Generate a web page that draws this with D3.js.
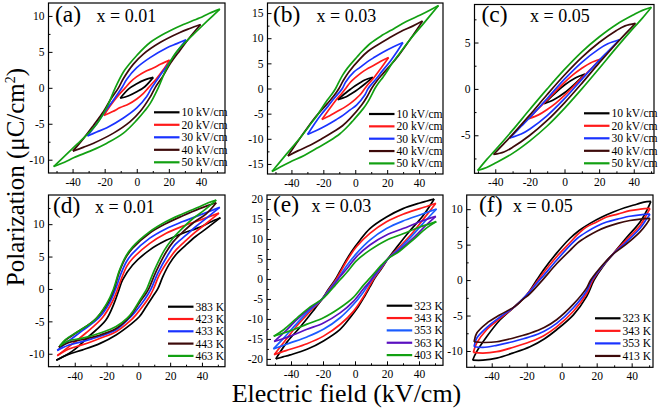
<!DOCTYPE html>
<html><head><meta charset="utf-8">
<script src="https://cdn.jsdelivr.net/npm/d3@7"></script>
<style>
body{margin:0;background:#fff}
svg{display:block}
text{font-family:"Liberation Serif","Times New Roman",serif;fill:#000}
</style>
</head><body>
<svg id="chart" width="659" height="409"></svg>
<script>
// ---------------- DATA ----------------
const fieldTicks = [-40, -20, 0, 20, 40];
const fieldMinorTicks = [-50, -30, -10, 10, 30, 50];

const yTicksA = [-10, -5, 0, 5, 10];
const yTicksB = [-15, -10, -5, 0, 5, 10, 15];
const yTicksC = [-5, 0, 5];
const yTicksD = [-10, -5, 0, 5, 10];
const yTicksE = [-20, -15, -10, -5, 0, 5, 10, 15, 20];
const yTicksF = [-10, -5, 0, 5, 10];

const labelsField = ["10 kV/cm", "20 kV/cm", "30 kV/cm", "40 kV/cm", "50 kV/cm"];
const labelsD = ["383 K", "423 K", "433 K", "443 K", "463 K"];
const labelsE = ["323 K", "343 K", "353 K", "363 K", "403 K"];
const labelsF = ["323 K", "343 K", "353 K", "413 K"];

const compositions = ["x = 0.01", "x = 0.03", "x = 0.05", "x = 0.01", "x = 0.03", "x = 0.05"];
const panelTags = ["(a)", "(b)", "(c)", "(d)", "(e)", "(f)"];

// each loop: up = descending branch (+Emax -> -Emax), lo = ascending branch (-Emax -> +Emax); [E (kV/cm), P (uC/cm2)]
const loopsA = [
  {up: [[10.3,1.45],[5,1.1],[0,0.55],[-5,-0.15],[-10.3,-1.45]],
   lo: [[-10.3,-1.45],[-5,-1.1],[0,-0.55],[5,0.15],[10.3,1.45]]},
  {up: [[20.5,3.85],[15,3.3],[10.3,2.75],[5,2.25],[0,1.55],[-4,0.8],[-7.2,0],[-12.4,-1.3],[-16.5,-2.5],[-20.5,-3.85]],
   lo: [[-20.5,-3.85],[-15,-3.3],[-10.3,-2.75],[-5,-2.25],[0,-1.55],[4,-0.8],[7.2,0],[12.4,1.3],[16.5,2.5],[20.5,3.85]]},
  {up: [[30.7,6.7],[25,6.15],[18.6,5.55],[8.3,4.2],[0,2.8],[-6.2,1.2],[-9.3,0],[-14.5,-1.7],[-20.7,-3.6],[-25,-5.0],[-30.7,-6.7]],
   lo: [[-30.7,-6.7],[-25,-6.15],[-18.6,-5.55],[-8.3,-4.2],[0,-2.8],[6.2,-1.2],[9.3,0],[14.5,1.7],[20.7,3.6],[25,5.0],[30.7,6.7]]},
  {up: [[39.8,8.8],[33,8.25],[26.9,7.7],[14.5,6.3],[4.1,4.7],[-2.1,3.3],[-8.3,1.3],[-11.4,0],[-16.5,-1.7],[-20.7,-3.3],[-26.9,-5.2],[-33,-7.0],[-39.8,-8.8]],
   lo: [[-39.8,-8.8],[-33,-8.25],[-26.9,-7.7],[-14.5,-6.3],[-4.1,-4.7],[2.1,-3.3],[8.3,-1.3],[11.4,0],[16.5,1.7],[20.7,3.3],[26.9,5.2],[33,7.0],[39.8,8.8]]},
  {up: [[51.8,10.95],[45,10.35],[39,9.7],[28,8.7],[18.6,7.7],[8.3,6.3],[0,4.5],[-5,3.2],[-8.3,2.2],[-13.4,0],[-18.6,-2.7],[-24.8,-5.0],[-31,-6.5],[-37,-7.8],[-44,-9.3],[-51.8,-10.95]],
   lo: [[-51.8,-10.95],[-45,-10.35],[-39,-9.7],[-28,-8.7],[-18.6,-7.7],[-8.3,-6.3],[0,-4.5],[5,-3.2],[8.3,-2.2],[13.4,0],[18.6,2.7],[24.8,5.0],[31,6.5],[37,7.8],[44,9.3],[51.8,10.95]]}
];

const loopsB = [
  {up: [[11,2.2],[6,1.7],[3,1.15],[0,0.55],[-3,-0.15],[-6,-0.9],[-11,-2.2]],
   lo: [[-11,-2.2],[-6,-1.7],[-3,-1.15],[0,-0.55],[3,0.15],[6,0.9],[11,2.2]]},
  {up: [[20.9,6.15],[16,5.4],[11.7,4.6],[7,3.8],[3.3,3.0],[0,2.15],[-2.9,1.3],[-6,0],[-8.5,-1.0],[-11.3,-2.0],[-16,-4.0],[-20.9,-6.15]],
   lo: [[-20.9,-6.15],[-16,-5.4],[-11.7,-4.6],[-7,-3.8],[-3.3,-3.0],[0,-2.15],[2.9,-1.3],[6,0],[8.5,1.0],[11.3,2.0],[16,4.0],[20.9,6.15]]},
  {up: [[29.9,9.15],[24,8.3],[17.9,7.3],[12,6.2],[7.5,5.3],[3,4.2],[-0.8,3.3],[-6,1.3],[-8.1,0],[-13.3,-2.0],[-17,-3.5],[-21.7,-5.3],[-25.5,-7.0],[-29.9,-9.15]],
   lo: [[-29.9,-9.15],[-24,-8.3],[-17.9,-7.3],[-12,-6.2],[-7.5,-5.3],[-3,-4.2],[0.8,-3.3],[6,-1.3],[8.1,0],[13.3,2.0],[17,3.5],[21.7,5.3],[25.5,7.0],[29.9,9.15]]},
  {up: [[42.2,13.4],[36,12.4],[28.3,11.3],[21,10.0],[13.7,8.6],[8,7.4],[3.3,6.0],[-4,3.3],[-7.5,1.6],[-10.2,0],[-13.5,-1.5],[-17.5,-3.0],[-25.8,-6.0],[-34,-9.6],[-42.2,-13.4]],
   lo: [[-42.2,-13.4],[-36,-12.4],[-28.3,-11.3],[-21,-10.0],[-13.7,-8.6],[-8,-7.4],[-3.3,-6.0],[4,-3.3],[7.5,-1.6],[10.2,0],[13.5,1.5],[17.5,3.0],[25.8,6.0],[34,9.6],[42.2,13.4]]},
  {up: [[52.2,16.5],[47,15.6],[40.8,14.6],[32,13.3],[24.2,11.9],[16,10.4],[9.6,9.0],[4,7.3],[1.2,6.3],[-5,4.0],[-8,2.6],[-10.2,1.3],[-12.3,0],[-14.8,-1.2],[-17.5,-2.3],[-23.8,-5.3],[-29,-7.5],[-34,-9.6],[-43,-13.0],[-52.2,-16.5]],
   lo: [[-52.2,-16.5],[-47,-15.6],[-40.8,-14.6],[-32,-13.3],[-24.2,-11.9],[-16,-10.4],[-9.6,-9.0],[-4,-7.3],[-1.2,-6.3],[5,-4.0],[8,-2.6],[10.2,-1.3],[12.3,0],[14.8,1.2],[17.5,2.3],[23.8,5.3],[29,7.5],[34,9.6],[43,13.0],[52.2,16.5]]}
];

const loopsC = [
  {up: [[11.8,1.6],[6,1.15],[0,0.42],[-6,-0.55],[-11.8,-1.6]],
   lo: [[-11.8,-1.6],[-6,-1.15],[0,-0.42],[6,0.55],[11.8,1.6]]},
  {up: [[20.6,3.2],[15,2.8],[10,2.22],[5,1.53],[0,0.7],[-5,-0.23],[-10,-1.18],[-15,-2.1],[-20.6,-3.2]],
   lo: [[-20.6,-3.2],[-15,-2.8],[-10,-2.22],[-5,-1.53],[0,-0.7],[5,0.23],[10,1.18],[15,2.1],[20.6,3.2]]},
  {up: [[31.7,5.3],[25,4.87],[20,4.32],[10,2.87],[0,1.05],[-10,-1.03],[-20,-3.08],[-25,-4.03],[-31.7,-5.3]],
   lo: [[-31.7,-5.3],[-25,-4.87],[-20,-4.32],[-10,-2.87],[0,-1.05],[10,1.03],[20,3.08],[25,4.03],[31.7,5.3]]},
  {up: [[41,7.07],[35,6.8],[30,6.3],[20,5.0],[10,3.4],[0,1.5],[-10,-0.6],[-20,-2.8],[-30,-4.9],[-35,-5.9],[-41,-7.07]],
   lo: [[-41,-7.07],[-35,-6.8],[-30,-6.3],[-20,-5.0],[-10,-3.4],[0,-1.5],[10,0.6],[20,2.8],[30,4.9],[35,5.9],[41,7.07]]},
  {up: [[50.2,8.8],[45,8.47],[40,8.0],[30,6.95],[20,5.6],[10,4.0],[0,2.1],[-10,0],[-20,-2.2],[-30,-4.45],[-40,-6.6],[-45,-7.63],[-50.2,-8.8]],
   lo: [[-50.2,-8.8],[-45,-8.47],[-40,-8.0],[-30,-6.95],[-20,-5.6],[-10,-4.0],[0,-2.1],[10,0],[20,2.2],[30,4.45],[40,6.6],[45,7.63],[50.2,8.8]]}
];

const loopsD = [
  {up: [[51.6,11.0],[45,10.3],[38.5,9.5],[28,8.6],[17.5,7.5],[7,6.0],[-3.6,3.7],[-9.9,1.4],[-12,0],[-15.2,-2.2],[-20.4,-4.8],[-31,-7.3],[-41.5,-9.6],[-51.6,-11.0]],
   lo: [[-51.6,-11.0],[-44,-10.1],[-35,-9.4],[-24,-8.4],[-14,-7.1],[-5,-5.5],[0.6,-4.3],[5,-2.7],[9,-1.2],[12.2,0],[15.4,1.9],[19.6,3.9],[24,5.4],[30,6.8],[36,8.1],[42.7,9.3],[51.6,11.0]]},
  {up: [[50.7,11.7],[45,11.2],[38.5,10.6],[28,9.7],[17.5,8.6],[7,7.0],[-3.6,4.7],[-7,3.6],[-10,2.0],[-13,0],[-16.2,-1.9],[-22.5,-4.4],[-33,-6.8],[-43.6,-8.9],[-51,-10.3]],
   lo: [[-51,-10.3],[-44,-9.3],[-35,-8.6],[-24,-7.6],[-14,-6.6],[-5,-4.9],[-1.5,-4.0],[3,-2.6],[7,-1.2],[9.5,0],[13.3,2.2],[19.6,4.7],[24,6.1],[30,7.5],[36,8.8],[42.7,10.1],[50.7,11.7]]},
  {up: [[51.2,12.6],[45,12.0],[38.5,11.4],[28,10.4],[17.5,9.3],[7,7.8],[-3.6,5.5],[-7.5,4.2],[-11,2.3],[-14.3,0],[-18,-2.1],[-24.6,-4.4],[-35,-6.4],[-45.7,-8.4],[-51,-9.5]],
   lo: [[-51,-9.5],[-44,-8.7],[-35,-8.1],[-24,-7.3],[-14,-6.3],[-6,-4.6],[-2.5,-3.7],[2,-2.3],[5.9,-0.9],[8,0],[12.2,2.4],[18.5,5.2],[23,6.8],[30,8.3],[36,9.6],[42.7,10.9],[51.2,12.6]]},
  {up: [[49,13.3],[44,12.9],[38.5,12.4],[28,11.3],[17.5,10.1],[7,8.6],[-3.6,6.3],[-8,4.8],[-12,2.6],[-15.2,0],[-19,-2.1],[-26.7,-4.6],[-37.3,-6.5],[-45.7,-7.9],[-50,-9.0]],
   lo: [[-50,-9.0],[-44,-8.3],[-35,-7.8],[-24,-7.1],[-14,-6.1],[-7,-4.7],[-3.6,-3.7],[1,-2.0],[4.8,-0.7],[6.5,0],[11.2,2.7],[17.5,5.7],[22,7.3],[28,8.8],[35,10.3],[42.7,11.6],[49,13.3]]},
  {up: [[49,13.7],[44,13.3],[38.5,12.7],[28,11.6],[17.5,10.4],[7,8.8],[-3.6,6.5],[-8,5.0],[-12,2.8],[-15.6,0],[-20,-2.3],[-27.5,-4.8],[-38.3,-6.6],[-45.7,-7.8],[-49.5,-8.8]],
   lo: [[-49.5,-8.8],[-44,-8.0],[-35,-7.6],[-24,-6.8],[-14,-5.8],[-7,-4.5],[-3.6,-3.5],[1,-1.7],[4.4,-0.4],[5.3,0],[10.1,2.9],[16.4,6.0],[21,7.6],[27,9.2],[34,10.8],[41.7,12.2],[49,13.7]]}
];

const loopsE = [
  {up: [[49.5,20.0],[45,19.5],[40.5,19.0],[30,17.6],[19.7,15.5],[9.3,12.6],[3.1,9.7],[-2.1,6.9],[-6.2,4.2],[-9.3,2.0],[-12.4,-0.2],[-16.6,-2.6],[-20.7,-5.1],[-26,-7.9],[-34.2,-12.0],[-42.5,-15.8],[-49.5,-20.0]],
   lo: [[-49.5,-20.0],[-45,-19.5],[-40.5,-19.0],[-30,-17.6],[-19.7,-15.5],[-9.3,-12.6],[-3.1,-9.7],[2.1,-6.9],[6.2,-4.2],[9.3,-2.0],[12.4,0.2],[16.6,2.6],[20.7,5.1],[26,7.9],[34.2,12.0],[42.5,15.8],[49.5,20.0]]},
  {up: [[50.5,18.95],[46,18.3],[40.5,17.6],[30,16.2],[19.7,14.3],[9.3,11.4],[1,8.1],[-5.2,4.5],[-9.3,1.6],[-12.4,-0.5],[-16.6,-2.8],[-20.7,-5.1],[-28,-8.1],[-36.3,-11.7],[-43.6,-15.4],[-50.5,-18.95]],
   lo: [[-50.5,-18.95],[-46,-18.3],[-40.5,-17.6],[-30,-16.2],[-19.7,-14.3],[-9.3,-11.4],[-1,-8.1],[5.2,-4.5],[9.3,-1.6],[12.4,0.5],[16.6,2.8],[20.7,5.1],[28,8.1],[36.3,11.7],[43.6,15.4],[50.5,18.95]]},
  {up: [[51,17.5],[46,16.8],[40.5,16.0],[30,14.5],[19.7,12.6],[9.3,9.7],[1,6.4],[-5.2,3.3],[-10.4,0.2],[-12.4,-0.8],[-16.6,-3.0],[-20.7,-5.1],[-28,-7.7],[-36.3,-11.1],[-44.6,-14.8],[-51,-17.5]],
   lo: [[-51,-17.5],[-46,-16.8],[-40.5,-16.0],[-30,-14.5],[-19.7,-12.6],[-9.3,-9.7],[-1,-6.4],[5.2,-3.3],[10.4,-0.2],[12.4,0.8],[16.6,3.0],[20.7,5.1],[28,7.7],[36.3,11.1],[44.6,14.8],[51,17.5]]},
  {up: [[50.5,15.65],[46,15.1],[40.5,14.3],[30,12.6],[19.7,11.0],[9.3,8.5],[1,5.6],[-5.2,2.5],[-9.3,0.6],[-12.4,-1.1],[-16.6,-3.2],[-20.7,-5.1],[-28,-7.3],[-36.3,-10.2],[-44.6,-13.5],[-50.5,-15.65]],
   lo: [[-50.5,-15.65],[-46,-15.1],[-40.5,-14.3],[-30,-12.6],[-19.7,-11.0],[-9.3,-8.5],[-1,-5.6],[5.2,-2.5],[9.3,-0.6],[12.4,1.1],[16.6,3.2],[20.7,5.1],[28,7.3],[36.3,10.2],[44.6,13.5],[50.5,15.65]]},
  {up: [[50.8,14.35],[46,13.7],[40.5,13.0],[30,11.3],[19.7,9.7],[9.3,7.2],[1,4.6],[-5.2,1.6],[-9.3,-0.2],[-12.4,-1.6],[-16.6,-3.5],[-20.7,-5.1],[-28,-7.0],[-36.3,-9.8],[-44.6,-12.7],[-50.8,-14.35]],
   lo: [[-50.8,-14.35],[-46,-13.7],[-40.5,-13.0],[-30,-11.3],[-19.7,-9.7],[-9.3,-7.2],[-1,-4.6],[5.2,-1.6],[9.3,0.2],[12.4,1.6],[16.6,3.5],[20.7,5.1],[28,7.0],[36.3,9.8],[44.6,12.7],[50.8,14.35]]}
];

const loopsF = [
  {up: [[51,11.1],[47,11.0],[42.9,10.7],[36,10.2],[29.5,9.6],[23,8.9],[16.2,8.0],[10,7.0],[4.8,5.9],[-2.9,3.8],[-10.5,1.4],[-14.3,0],[-20,-2.1],[-26.7,-3.7],[-35.2,-5.6],[-42.9,-8.0],[-48.6,-10.1],[-50.9,-11.3]],
   lo: [[-50.9,-11.3],[-45,-11.3],[-37.1,-11.0],[-28,-10.3],[-18.1,-9.4],[-10,-8.3],[-2.9,-7.0],[6.7,-4.9],[14.3,-2.3],[18.5,0],[23.8,2.0],[29.1,3.6],[37.1,6.0],[44.8,8.2],[49,10.0],[51,11.1]]},
  {up: [[50.5,10.1],[45,10.0],[39,9.8],[32,9.3],[25.7,8.9],[20,8.2],[14.3,7.5],[9,6.4],[4.8,5.3],[-2.9,3.3],[-10.5,1.0],[-13.5,0],[-16.2,-0.9],[-21.9,-2.6],[-26.7,-3.7],[-35.2,-5.4],[-42.9,-7.0],[-48.6,-8.9],[-50.5,-10.2]],
   lo: [[-50.5,-10.2],[-45,-10.3],[-37.1,-10.1],[-28,-9.5],[-18.1,-8.7],[-10,-7.8],[-2.9,-6.6],[6.7,-4.4],[14.3,-1.9],[17.8,0],[23.8,2.1],[29.1,3.6],[37.1,5.7],[44.8,7.7],[48.5,9.2],[50.5,10.1]]},
  {up: [[50.5,9.3],[45,9.2],[39,9.0],[32,8.6],[25.7,8.2],[20,7.6],[14.3,6.8],[9,5.9],[4.8,4.9],[-2.9,2.8],[-10.5,0.6],[-12.7,0],[-18.1,-1.6],[-22.5,-2.7],[-26.7,-3.7],[-35.2,-5.2],[-42.9,-6.7],[-48.6,-8.2],[-50.1,-9.4]],
   lo: [[-50.1,-9.4],[-45,-9.5],[-37.1,-9.2],[-28,-8.7],[-18.1,-8.0],[-10,-7.2],[-2.9,-6.1],[6.7,-3.9],[14.3,-1.5],[17.2,0],[24,2.2],[29.1,3.6],[37.1,5.4],[44.8,7.3],[48.5,8.6],[50.5,9.3]]},
  {up: [[50.5,8.7],[45,8.6],[39,8.4],[32,8.0],[25.7,7.5],[20,6.9],[14.3,6.1],[9,5.2],[4.8,4.2],[-2.9,2.3],[-11,0],[-18.1,-1.9],[-22.5,-2.8],[-26.7,-3.7],[-35.2,-4.9],[-42.9,-6.1],[-48.6,-7.5],[-50.1,-8.7]],
   lo: [[-50.1,-8.7],[-45,-8.8],[-37.1,-8.7],[-28,-8.2],[-18.1,-7.5],[-10,-6.7],[-2.9,-5.6],[6.7,-3.4],[14.3,-1.1],[16.6,0],[24,2.3],[29.1,3.6],[37.1,5.1],[44.8,6.8],[48.5,7.9],[50.5,8.7]]}
];

// ---------------- STYLE / LAYOUT ----------------
const colFive = ["#000000", "#ff1a1a", "#1a33ff", "#3d0a0a", "#12a012"];
const colE = ["#000000", "#ff1a1a", "#1a5cff", "#5a10c0", "#12a012"];
const colF = ["#000000", "#ff1a1a", "#1a33ff", "#3d0a0a"];

const panels = [
  {loops: loopsA, labels: labelsField, colors: colFive, yTicks: yTicksA, left: 48.5, right: 225, top: 3, bottom: 173, xDom: [-55, 55], yDom: [-11.85, 11.8],
   tagX: 55, compX: 96.5, labBase: 22, legX: 154, legY: 112.3, legStep: 12.5},
  {loops: loopsB, labels: labelsField, colors: colFive, yTicks: yTicksB, left: 267.5, right: 443, top: 3, bottom: 174, xDom: [-55, 55], yDom: [-17, 17],
   tagX: 273, compX: 316.5, labBase: 22, legX: 369, legY: 114, legStep: 12.35},
  {loops: loopsC, labels: labelsField, colors: colFive, yTicks: yTicksC, left: 474.5, right: 654, top: 4.5, bottom: 173.3, xDom: [-52, 51.7], yDom: [-9.1, 9.1],
   tagX: 481.5, compX: 530, labBase: 22, legX: 584, legY: 113.3, legStep: 12.5},
  {loops: loopsD, labels: labelsD, colors: colFive, yTicks: yTicksD, left: 48.5, right: 225, top: 195, bottom: 366.7, xDom: [-56.5, 54.5], yDom: [-12, 14.5],
   tagX: 53, compX: 95, labBase: 213, legX: 168, legY: 306.7, legStep: 12.3},
  {loops: loopsE, labels: labelsE, colors: colE, yTicks: yTicksE, left: 267, right: 443, top: 195, bottom: 365.3, xDom: [-55, 55], yDom: [-21.6, 21],
   tagX: 273, compX: 311.5, labBase: 212, legX: 386.7, legY: 305.7, legStep: 12.35},
  {loops: loopsF, labels: labelsF, colors: colF, yTicks: yTicksF, left: 466.7, right: 653, top: 195, bottom: 367.3, xDom: [-54.3, 52.2], yDom: [-12.3, 12],
   tagX: 479, compX: 513, labBase: 212, legX: 595, legY: 318.3, legStep: 12.55}
];

// ---------------- DRAW ----------------
const svg = d3.select("#chart");
svg.append("rect").attr("width", 659).attr("height", 409).attr("fill", "#fff");
const SERIF = "Liberation Serif, Times New Roman, serif";

panels.forEach((p, pi) => {
  const x = d3.scaleLinear().domain(p.xDom).range([p.left, p.right]);
  const y = d3.scaleLinear().domain(p.yDom).range([p.bottom, p.top]);
  const g = svg.append("g");

  const clipId = "clip" + pi;
  svg.append("clipPath").attr("id", clipId).append("rect")
    .attr("x", p.left).attr("y", p.top).attr("width", p.right - p.left).attr("height", p.bottom - p.top);

  const line = d3.line().x(d => x(d[0])).y(d => y(d[1])).curve(d3.curveCatmullRom.alpha(0.5));
  const lg = g.append("g").attr("clip-path", `url(#${clipId})`);
  p.loops.forEach((loop, i) => {
    [loop.up, loop.lo].forEach(br => {
      lg.append("path").attr("d", line(br)).attr("fill", "none")
        .attr("stroke", p.colors[i]).attr("stroke-width", 1.7).attr("stroke-linejoin", "round");
    });
  });

  const fmt = d => String(d);
  const xAx = g.append("g").attr("transform", `translate(0,${p.bottom})`)
    .call(d3.axisBottom(x).tickValues(fieldTicks).tickSize(-4).tickPadding(5).tickFormat(fmt));
  const xAxMin = g.append("g").attr("transform", `translate(0,${p.bottom})`)
    .call(d3.axisBottom(x).tickValues(fieldMinorTicks.filter(v => v > p.xDom[0] && v < p.xDom[1])).tickSize(-2).tickFormat(""));
  const yMinor = [];
  for (let k = 0; k < p.yTicks.length - 1; k++) yMinor.push((p.yTicks[k] + p.yTicks[k + 1]) / 2);
  const step = p.yTicks[1] - p.yTicks[0];
  const lowExtra = p.yTicks[0] - step / 2, highExtra = p.yTicks[p.yTicks.length - 1] + step / 2;
  if (lowExtra > p.yDom[0]) yMinor.push(lowExtra);
  if (highExtra < p.yDom[1]) yMinor.push(highExtra);
  const yAx = g.append("g").attr("transform", `translate(${p.left},0)`)
    .call(d3.axisLeft(y).tickValues(p.yTicks).tickSize(-4).tickPadding(4).tickFormat(fmt));
  const yAxMin = g.append("g").attr("transform", `translate(${p.left},0)`)
    .call(d3.axisLeft(y).tickValues(yMinor).tickSize(-2).tickFormat(""));
  [xAx, xAxMin, yAx, yAxMin].forEach(a => {
    a.attr("font-family", SERIF);
    a.select(".domain").remove();
    a.selectAll("line").attr("stroke", "#000").attr("stroke-width", 1);
    a.selectAll("text").attr("font-family", SERIF).attr("font-size", 11.5).attr("fill", "#000");
  });

  g.append("rect").attr("x", p.left).attr("y", p.top).attr("width", p.right - p.left).attr("height", p.bottom - p.top)
    .attr("fill", "none").attr("stroke", "#000").attr("stroke-width", 1.2);

  g.append("text").attr("x", p.tagX).attr("y", p.labBase).attr("font-family", SERIF).attr("font-size", 23.5).text(panelTags[pi]);
  g.append("text").attr("x", p.compX).attr("y", p.labBase).attr("font-family", SERIF).attr("font-size", 18).text(compositions[pi]);

  p.labels.forEach((lab, i) => {
    const yy = p.legY + i * p.legStep;
    g.append("line").attr("x1", p.legX).attr("x2", p.legX + 25.5).attr("y1", yy).attr("y2", yy)
      .attr("stroke", p.colors[i]).attr("stroke-width", 2.2);
    g.append("text").attr("x", p.legX + 27.5).attr("y", yy).attr("dy", "0.35em")
      .attr("font-family", SERIF).attr("font-size", 11.6).text(lab);
  });
});

svg.append("text").attr("transform", "translate(23.5,177) rotate(-90)").attr("text-anchor", "middle")
  .attr("font-family", SERIF).attr("font-size", 25)
  .call(t => {
    t.append("tspan").text("Polarization (μC/cm");
    t.append("tspan").attr("font-size", 14).attr("dy", -9).text("2");
    t.append("tspan").attr("dy", 9).text(")");
  });
svg.append("text").attr("x", 346.5).attr("y", 402).attr("text-anchor", "middle")
  .attr("font-family", SERIF).attr("font-size", 26)
  .text("Electric field (kV/cm)");
</script>
</body></html>
